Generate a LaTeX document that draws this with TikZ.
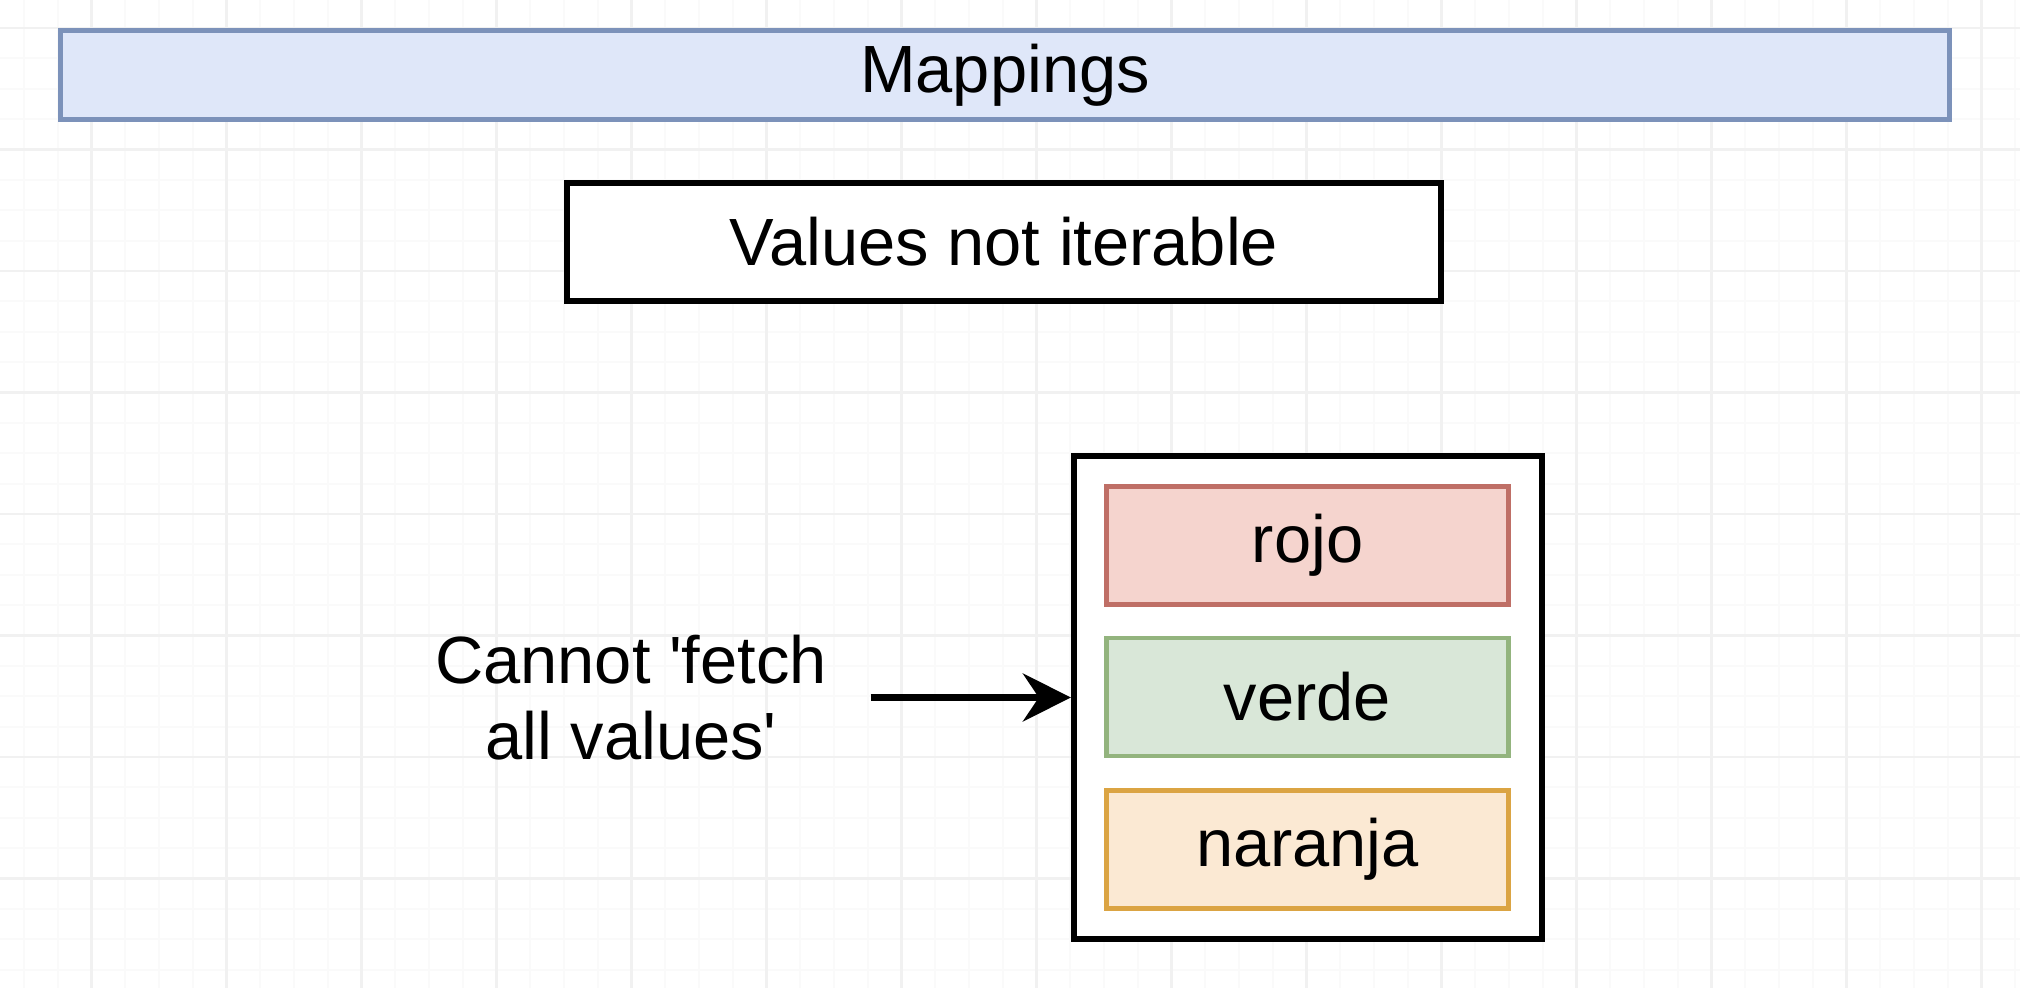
\documentclass[tikz,border=0pt]{standalone}
\usepackage{fontspec}
\setmainfont{Liberation Sans}
\usetikzlibrary{arrows.meta}
\definecolor{gridmaj}{HTML}{F1F1F1}
\definecolor{gridmin}{HTML}{FAFAFA}
\definecolor{blueF}{HTML}{DFE7F9}
\definecolor{blueD}{HTML}{7C92BA}
\definecolor{redF}{HTML}{F5D4CE}
\definecolor{redD}{HTML}{BF6F66}
\definecolor{greenF}{HTML}{D9E7D8}
\definecolor{greenD}{HTML}{93B47E}
\definecolor{orangeF}{HTML}{FBE9D3}
\definecolor{orangeD}{HTML}{DBA443}
\begin{document}
\begin{tikzpicture}[x=0.01cm,y=-0.01cm,
  txt/.style={font=\fontsize{19}{21.5}\selectfont, text=black},
  box/.style={txt, draw=black, line width=1.7pt, inner sep=0pt},
  item/.style={txt, line width=1.3pt, inner sep=0pt, minimum width=4.02cm, minimum height=1.18cm},
  arr/.style={-{Stealth[length=4.8mm,width=4.8mm,inset=1.6mm]}, line width=1.8pt}]
\useasboundingbox (0,0) rectangle (2020,988);
\fill[white] (0,0) rectangle (2020,988);
% grid
\foreach \j in {-2,...,57} {\draw[gridmin, line width=0.5pt] ({91.5+33.75*\j},0) -- ({91.5+33.75*\j},988);}
\foreach \j in {0,...,31} {\draw[gridmin, line width=0.5pt] (0,{28+30.375*\j}) -- (2020,{28+30.375*\j});}
\foreach \k in {0,...,14} {\draw[gridmaj, line width=0.6pt] ({91.5+135*\k},0) -- ({91.5+135*\k},988);}
\foreach \k in {0,...,7} {\draw[gridmaj, line width=0.6pt] (0,{28+121.5*\k}) -- (2020,{28+121.5*\k});}
% nodes
\node[box, draw=blueD, fill=blueF, line width=1.5pt, minimum width=18.88cm, minimum height=0.89cm] (map) at (1005,75) {Mappings};
\node[box, fill=white, minimum width=8.74cm, minimum height=1.18cm] (vals) at (1004,242) {Values not iterable};
\node[box, fill=white, minimum width=4.68cm, minimum height=4.83cm] (outer) at (1308,697.5) {};
\node[item, draw=redD, fill=redF] (rojo) at (1307.5,545.5) {rojo};
\node[item, draw=greenD, fill=greenF] (verde) at (1307.5,697) {verde};
\node[item, draw=orangeD, fill=orangeF] (naranja) at (1307.5,849.5) {naranja};
\node[txt, align=center, inner xsep=0.43cm, inner ysep=0pt] (lbl) at (631,697.5) {Cannot \textquotesingle fetch\\all values\textquotesingle};
\draw[arr] (lbl) -- (outer);
\end{tikzpicture}
\end{document}
